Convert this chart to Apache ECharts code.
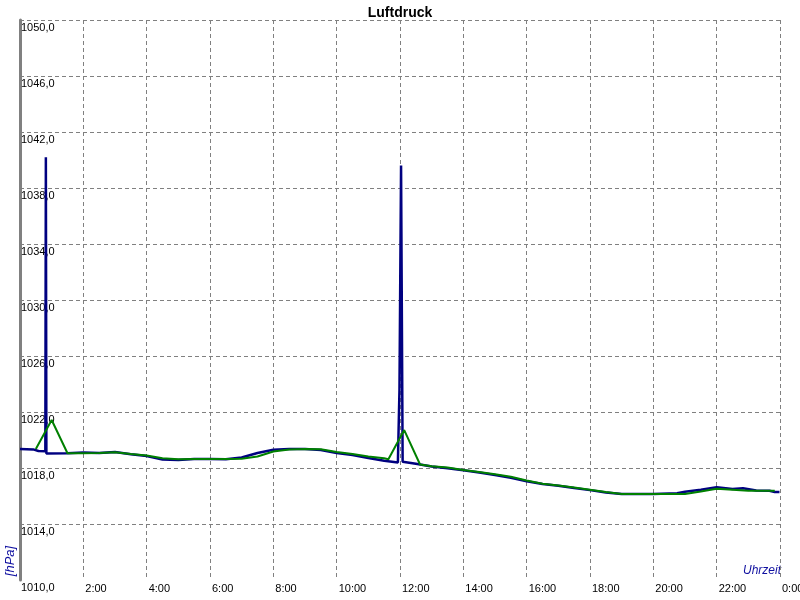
<!DOCTYPE html>
<html>
<head>
<meta charset="utf-8">
<script src="https://cdn.jsdelivr.net/npm/echarts@6/dist/echarts.min.js"></script>
<style>html,body{margin:0;padding:0;background:#fff}#c{width:800px;height:600px}</style>
</head>
<body>
<div id="c"></div>
<script>
const chartTitle = 'Luftdruck';
const xTickLabels = ['', '2:00', '4:00', '6:00', '8:00', '10:00', '12:00', '14:00', '16:00', '18:00', '20:00', '22:00', '0:00'];
const yTickLabels = ['1010,0', '1014,0', '1018,0', '1022,0', '1026,0', '1030,0', '1034,0', '1038,0', '1042,0', '1046,0', '1050,0'];

const blueTime = ['0:00','0:25','0:35','0:48','0:49','0:50','1:30','2:00','2:30','3:00','3:30','4:00','4:30','5:00','5:30','6:00','6:30','7:00','7:30','8:00','8:30','9:00','9:30','10:00','10:30','11:00','11:30','11:56','11:59','12:02','12:05','12:30','13:00','13:30','14:00','14:30','15:00','15:30','16:00','16:30','17:00','17:30','18:00','18:30','19:00','20:00','20:45','21:00','21:30','22:00','22:30','22:50','23:15','23:40','23:50','23:59'];
const blueValue = [1019.36,1019.33,1019.21,1019.20,1040.2,1019.04,1019.05,1019.10,1019.07,1019.14,1018.98,1018.85,1018.60,1018.57,1018.64,1018.64,1018.62,1018.75,1019.07,1019.30,1019.36,1019.36,1019.28,1019.07,1018.93,1018.72,1018.52,1018.40,1023.6,1039.6,1018.45,1018.30,1018.10,1017.98,1017.84,1017.68,1017.50,1017.30,1017.05,1016.85,1016.73,1016.57,1016.42,1016.25,1016.14,1016.14,1016.20,1016.30,1016.45,1016.62,1016.50,1016.55,1016.40,1016.38,1016.29,1016.29];

const greenTime = ['0:30','1:00','1:30','2:00','2:30','3:00','3:30','4:00','4:30','5:00','5:30','6:00','6:30','7:00','7:30','8:00','8:30','9:00','9:30','10:00','10:30','11:00','11:30','11:38','12:08','12:38','13:00','13:30','14:00','14:30','15:00','15:30','16:00','16:30','17:00','17:30','18:00','18:30','19:00','19:30','20:00','20:30','21:00','21:30','22:00','22:30','23:00','23:50'];
const greenValue = [1019.36,1021.43,1019.05,1019.05,1019.07,1019.12,1019.00,1018.89,1018.69,1018.62,1018.64,1018.64,1018.64,1018.66,1018.82,1019.18,1019.32,1019.36,1019.34,1019.14,1019.00,1018.82,1018.69,1018.62,1020.71,1018.25,1018.12,1018.04,1017.86,1017.71,1017.55,1017.37,1017.11,1016.87,1016.75,1016.61,1016.45,1016.29,1016.14,1016.14,1016.14,1016.14,1016.14,1016.32,1016.52,1016.45,1016.38,1016.38];

function toHours(t) { const p = t.split(':'); return Number(p[0]) + Number(p[1]) / 60; }
function pairs(times, values) { return times.map((t, i) => [toHours(t), values[i]]); }

const gridColor = '#808080';
const font = 'Arial, "Liberation Sans", sans-serif';

const chart = echarts.init(document.getElementById('c'), null, { renderer: 'canvas' });
chart.setOption({
  animation: false,
  backgroundColor: '#ffffff',
  title: {
    text: chartTitle, left: 'center', top: 1,
    textStyle: { fontFamily: font, fontSize: 14, fontWeight: 'bold', color: '#000' }
  },
  grid: { left: 20, right: 20, top: 20, bottom: 20, containLabel: false, outerBoundsMode: 'none' },
  xAxis: {
    type: 'value', min: 0, max: 24, interval: 2,
    axisLine: { show: false },
    axisTick: { show: false },
    axisLabel: {
      show: true, showMaxLabel: true, showMinLabel: true, hideOverlap: false,
      align: 'left', margin: 3, padding: [0, 0, 0, 2],
      fontFamily: font, fontSize: 11, color: '#000',
      formatter: v => xTickLabels[Math.round(v / 2)]
    },
    splitLine: { show: true, showMinLine: false, showMaxLine: true, lineStyle: { color: gridColor, type: [4, 3], width: 1 } }
  },
  yAxis: {
    type: 'value', min: 1010, max: 1050, interval: 4,
    axisLine: { show: true, onZero: false, lineStyle: { color: gridColor, width: 3 } },
    axisTick: { show: false },
    axisLabel: {
      inside: true, margin: 1, verticalAlign: 'top', padding: [2, 0, 0, 0],
      fontFamily: font, fontSize: 11, color: '#000',
      showMinLabel: true, showMaxLabel: true,
      formatter: v => yTickLabels[Math.round((v - 1010) / 4)]
    },
    splitLine: { show: true, showMinLine: false, showMaxLine: true, lineStyle: { color: gridColor, type: [4, 3], width: 1 } }
  },
  series: [
    {
      name: 'blue', type: 'line', data: pairs(blueTime, blueValue),
      showSymbol: false, symbol: 'none',
      lineStyle: { color: '#000080', width: 2.5 }, z: 2
    },
    {
      name: 'green', type: 'line', data: pairs(greenTime, greenValue),
      showSymbol: false, symbol: 'none',
      lineStyle: { color: '#008000', width: 2 }, z: 3
    }
  ],
  graphic: [
    {
      type: 'text', x: 10, y: 561, rotation: Math.PI / 2,
      style: { text: '[hPa]', fill: '#1010a0', font: 'italic 13px Arial, "Liberation Sans", sans-serif', textAlign: 'center', textVerticalAlign: 'middle' }
    },
    {
      type: 'text', x: 781, y: 571,
      style: { text: 'Uhrzeit', fill: '#1010a0', font: 'italic 12px Arial, "Liberation Sans", sans-serif', textAlign: 'right', textVerticalAlign: 'middle' }
    }
  ]
});
</script>
</body>
</html>
